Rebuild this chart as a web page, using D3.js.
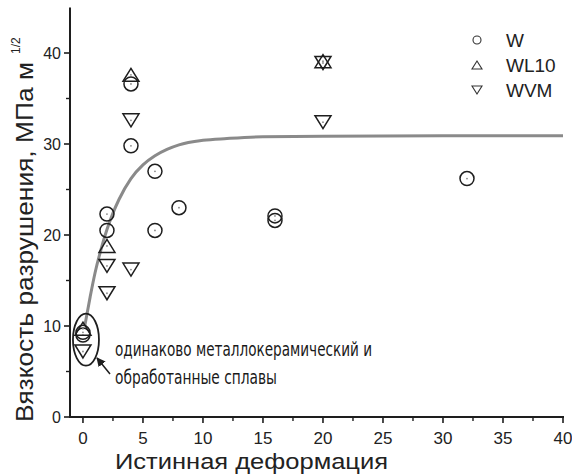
<!DOCTYPE html>
<html>
<head>
<meta charset="utf-8">
<script src="https://cdn.jsdelivr.net/npm/d3@7"></script>
<style>
  body { margin: 0; background: #fff; }
  svg { display: block; }
</style>
</head>
<body>
<div id="chart"></div>
<script>
// series: [strain, toughness]
const seriesW = [[0, 9.3], [0, 9.0], [2, 22.3], [2, 20.5], [4, 36.6], [4, 29.8],
  [6, 27.0], [6, 20.5], [8, 23.0], [16, 22.1], [16, 21.6], [32, 26.2]];
const seriesWL10 = [[0, 9.7], [2, 18.8], [4, 37.6], [20, 39.1]];
const seriesWVM = [[0, 7.2], [2, 16.6], [2, 13.6], [4, 32.6], [4, 16.2], [20, 38.9], [20, 32.4]];
// fitted curve, points
const fitCurve = [[0.15, 10.0], [0.6, 13.2], [1, 15.8], [1.5, 18.4], [2, 20.6], [2.5, 22.4],
  [3, 23.9], [4, 26.2], [5, 27.7], [6, 28.7], [7, 29.4], [8, 29.9], [10, 30.4],
  [12, 30.6], [15, 30.8], [20, 30.85], [30, 30.9], [40, 30.9]];

const xTicks = [0, 5, 10, 15, 20, 25, 30, 35, 40];
const xMinor = [2.5, 7.5, 12.5, 17.5, 22.5, 27.5, 32.5, 37.5];
const yTicks = [0, 10, 20, 30, 40];
const yMinor = [5, 15, 25, 35];
const legendItems = ['W', 'WL10', 'WVM'];

const width = 572, height = 476;
const svg = d3.select('#chart').append('svg')
    .attr('width', width)
    .attr('height', height);

const x = d3.scaleLinear().domain([-1.08, 40]).range([70, 563]);
const y = d3.scaleLinear().domain([0, 45]).range([417, 7.5]);

const ink = '#1e1e1e';
const font = 'Liberation Sans, Arial, sans-serif';

// axes
const xAxis = svg.append('g').attr('transform', `translate(0,${y(0)})`);
xAxis.append('line').attr('x1', 70).attr('x2', x(40) + 1).attr('stroke', ink).attr('stroke-width', 2);
xAxis.selectAll('.maj').data(xTicks).join('line')
    .attr('x1', d => x(d)).attr('x2', d => x(d)).attr('y1', 0).attr('y2', 6)
    .attr('stroke', ink).attr('stroke-width', 1.6);
xAxis.selectAll('.min').data(xMinor).join('line')
    .attr('x1', d => x(d)).attr('x2', d => x(d)).attr('y1', 0).attr('y2', 4)
    .attr('stroke', ink).attr('stroke-width', 1.4);
xAxis.selectAll('text').data(xTicks).join('text')
    .attr('x', d => x(d)).attr('y', 27)
    .attr('text-anchor', 'middle')
    .attr('font-family', font)
    .attr('font-size', 17)
    .attr('fill', '#222')
    .text(d => d);

const yAxis = svg.append('g').attr('transform', `translate(70,0)`);
yAxis.append('line').attr('y1', y(0) + 1).attr('y2', y(45)).attr('stroke', ink).attr('stroke-width', 2);
yAxis.selectAll('.maj').data(yTicks).join('line')
    .attr('y1', d => y(d)).attr('y2', d => y(d)).attr('x1', 0).attr('x2', -6)
    .attr('stroke', ink).attr('stroke-width', 1.6);
yAxis.selectAll('.min').data(yMinor).join('line')
    .attr('y1', d => y(d)).attr('y2', d => y(d)).attr('x1', 0).attr('x2', -4)
    .attr('stroke', ink).attr('stroke-width', 1.4);
yAxis.selectAll('text').data(yTicks).join('text')
    .attr('x', -9).attr('y', d => y(d) + 6)
    .attr('text-anchor', 'end')
    .attr('font-family', font)
    .attr('font-size', 16)
    .attr('fill', '#222')
    .text(d => d);

// axis titles
svg.append('text')
    .attr('x', 115).attr('y', 469)
    .attr('textLength', 273).attr('lengthAdjust', 'spacingAndGlyphs')
    .attr('font-family', font)
    .attr('font-size', 22)
    .attr('fill', '#222')
    .text('Истинная деформация');

const yTitle = svg.append('text')
    .attr('transform', 'translate(33,422) rotate(-90)')
    .attr('font-family', font)
    .attr('font-size', 23)
    .attr('fill', '#222');
yTitle.append('tspan')
    .attr('textLength', 360).attr('lengthAdjust', 'spacingAndGlyphs')
    .text('Вязкость разрушения, МПа м');
yTitle.append('tspan').attr('font-size', 12).attr('dx', 8).attr('dy', -13).text('1/2');

// fitted curve
svg.append('path')
    .datum(fitCurve)
    .attr('fill', 'none')
    .attr('stroke', '#8a8a8a')
    .attr('stroke-width', 3)
    .attr('d', d3.line().x(d => x(d[0])).y(d => y(d[1])).curve(d3.curveMonotoneX));

// markers
const triUp = (w, h) => `M0,${-h / 2}L${w / 2},${h / 2}L${-w / 2},${h / 2}Z`;
const triDown = (w, h) => `M0,${h / 2}L${w / 2},${-h / 2}L${-w / 2},${-h / 2}Z`;

function drawSeries(data, kind) {
    const g = svg.append('g').selectAll('g').data(data).join('g')
        .attr('transform', d => `translate(${x(d[0])},${y(d[1])})`);
    if (kind === 'circle') {
        g.append('circle').attr('r', 7);
    } else {
        g.append('path').attr('d', kind === 'up' ? triUp(16, 13) : triDown(16, 13));
    }
    g.selectAll('circle, path').attr('fill', 'none').attr('stroke', ink).attr('stroke-width', 1.5);
    g.append('circle').attr('r', 0.9).attr('fill', '#888');
}
drawSeries(seriesW, 'circle');
drawSeries(seriesWL10, 'up');
drawSeries(seriesWVM, 'down');

// legend
const legend = svg.append('g');
legendItems.forEach((name, i) => {
    const ly = 40 + i * 25;
    const sym = legend.append('g').attr('transform', `translate(477,${ly})`);
    if (i === 0) sym.append('circle').attr('r', 4);
    else sym.append('path').attr('d', i === 1 ? triUp(10, 8) : triDown(10, 8));
    sym.selectAll('*').attr('fill', 'none').attr('stroke', '#333').attr('stroke-width', 1.1);
    legend.append('text')
        .attr('x', 506).attr('y', ly + 7)
        .attr('font-family', font)
        .attr('font-size', 19)
        .attr('fill', '#222')
        .text(name);
});

// annotation: ellipse around the undeformed alloys and its note
svg.append('ellipse')
    .attr('cx', x(0.25)).attr('cy', y(8.5))
    .attr('rx', 13).attr('ry', 26)
    .attr('fill', 'none').attr('stroke', ink).attr('stroke-width', 1.8);

svg.append('defs').append('marker')
    .attr('id', 'arrow')
    .attr('viewBox', '0 -5 10 10')
    .attr('refX', 9).attr('refY', 0)
    .attr('markerWidth', 6).attr('markerHeight', 6)
    .attr('orient', 'auto')
    .append('path').attr('d', 'M0,-5L10,0L0,5Z').attr('fill', ink);

svg.append('line')
    .attr('x1', 110).attr('y1', 374).attr('x2', 97).attr('y2', 358)
    .attr('stroke', ink).attr('stroke-width', 1.5)
    .attr('marker-end', 'url(#arrow)');

const note = svg.append('text')
    .attr('font-family', 'Liberation Sans Narrow, DejaVu Sans Condensed, Arial Narrow, sans-serif')
    .attr('font-size', 19)
    .attr('fill', '#1a1a1a');
note.append('tspan').attr('x', 115).attr('y', 356)
    .attr('textLength', 257).attr('lengthAdjust', 'spacingAndGlyphs')
    .text('одинаково металлокерамический и');
note.append('tspan').attr('x', 115).attr('y', 384)
    .attr('textLength', 162).attr('lengthAdjust', 'spacingAndGlyphs')
    .text('обработанные сплавы');
</script>
</body>
</html>
